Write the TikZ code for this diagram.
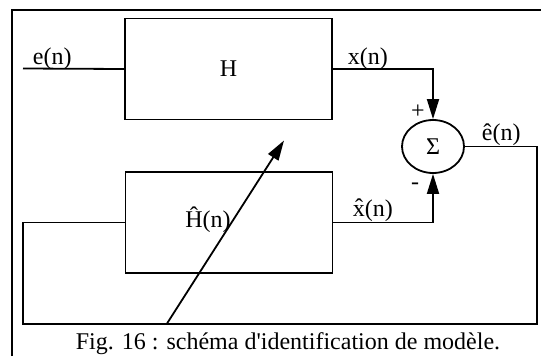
\documentclass[tikz,border=0pt]{standalone}
\usepackage{fontspec}
\setmainfont{Liberation Serif}
\usetikzlibrary{positioning,shapes.geometric,arrows.meta}
\tikzset{
	block/.style = {draw, rectangle, minimum width=207pt, minimum height=101pt},
	sumnode/.style = {draw, ellipse, minimum width=62pt, minimum height=53pt, inner sep=0pt},
	sig/.style = {anchor=base west, inner sep=0pt},
	tip/.style = {-{Triangle[length=20pt, width=12pt]}}
	}

\begin{document}
\begin{tikzpicture}[x=1pt, y=-1pt, line width=1.8pt, font=\fontsize{24}{28}\selectfont]
\useasboundingbox (0,0) rectangle (543,356);

% NODES
% systems
\node (H) [block] at (228.5,69) {H};
\node (Hhat) [block] at (229,222.5) {};
\node (Hhatlabel) at (208,220) {Ĥ(n)};
% summation
\node (sum) [sumnode] at (433,146.5) {Σ};
\node (plus) at (418,112) {+};
\node (minus) at (415,186) {-};
% signals
\coordinate (ein) at (23,68.5);
\node (elabel) [sig] at (32,64) {e(n)};
\node (xlabel) [sig] at (347,64) {x(n)};
\node (xhatlabel) [sig] at (352,216) {x̂(n)};
\node (ehatlabel) [sig] at (481,140) {ê(n)};
% feedback corners
\coordinate (fbright) at (537,324);
\coordinate (fbleft) at (23,324);
\coordinate (adaptfrom) at (166.7,324);
\coordinate (adaptto) at (284,140.5);
% caption
\node (caption) [anchor=base] at (288,349) {Fig. 16 : schéma d\textquotesingle{}identification de modèle.};

%CONNECTIONS
\draw [line width=2.6pt] (12,356) -- (12,10) -- (541,10);
\draw (ein) -- (H.west);
\draw [tip] (H.east) -| (sum.north);
\draw [tip] (Hhat.east) -| (sum.south);
\draw (sum.east) -| (fbright) -- (fbleft) |- (Hhat.west);
\draw [tip] (adaptfrom) -- (adaptto);

\end{tikzpicture}
\end{document}
